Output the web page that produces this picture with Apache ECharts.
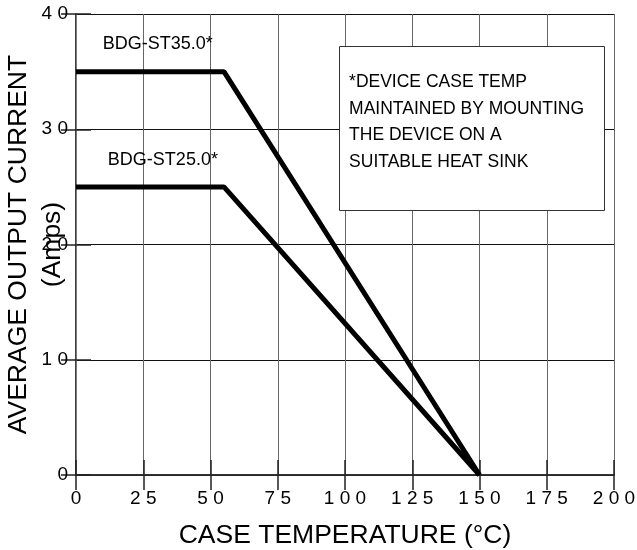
<!DOCTYPE html>
<html>
<head>
<meta charset="utf-8">
<script src="https://cdn.jsdelivr.net/npm/echarts@6/dist/echarts.min.js"></script>
<style>html,body{margin:0;padding:0;background:#fff;}#c{width:637px;height:550px;}</style>
</head>
<body>
<div id="c"></div>
<script>
// ---- data ----
var temps35 = [0, 55, 150];
var amps35 = [35, 35, 0];
var temps25 = [0, 55, 150];
var amps25 = [25, 25, 0];
var seriesNames = ['BDG-ST35.0*', 'BDG-ST25.0*'];
var seriesLabelPos = [[30.4, 37.4], [32.3, 27.3]];
var xTicks = [0, 25, 50, 75, 100, 125, 150, 175, 200];
var yTicks = [0, 10, 20, 30, 40];
var noteLines = ['*DEVICE CASE TEMP', 'MAINTAINED BY MOUNTING', 'THE DEVICE ON A', 'SUITABLE HEAT SINK'];
var noteBox = {x0: 97.8, x1: 196.2, y0: 23.0, y1: 37.2};
var xTitle = 'CASE TEMPERATURE (°C)';
var yTitle = 'AVERAGE OUTPUT CURRENT\n(Amps)';

var FONT = '"Liberation Sans", Arial, sans-serif';
function spaced(v) { return String(v).split('').join(' '); }

var chart = echarts.init(document.getElementById('c'), null, {renderer: 'canvas'});
function pairs(xs, ys) { return xs.map(function (x, i) { return [x, ys[i]]; }); }

var option = {
  animation: false,
  backgroundColor: '#fff',
  grid: {left: 76, top: 14, width: 538, height: 461, containLabel: false, outerBoundsMode: 'none'},
  xAxis: [{
    type: 'value', min: xTicks[0], max: xTicks[xTicks.length - 1], interval: 25,
    name: xTitle, nameLocation: 'middle', nameGap: 47, nameMoveOverlap: false,
    nameTextStyle: {fontFamily: FONT, fontSize: 26.5, color: '#000'},
    axisLine: {show: true, onZero: false, lineStyle: {color: '#000', width: 1.5}},
    axisTick: {show: true, inside: true, length: 15, lineStyle: {color: '#222', width: 1.5}},
    axisLabel: {fontFamily: FONT, fontSize: 19, color: '#000', margin: 14, formatter: spaced},
    splitLine: {show: true, lineStyle: {color: '#666', width: 1}}
  }, {
    type: 'value', position: 'top', min: xTicks[0], max: xTicks[xTicks.length - 1], interval: 25,
    axisLine: {show: true, lineStyle: {color: '#333', width: 1.5}},
    axisTick: {show: true, inside: true, length: 15, lineStyle: {color: '#222', width: 1.5}},
    axisLabel: {show: false}, splitLine: {show: false}
  }],
  yAxis: [{
    type: 'value', min: yTicks[0], max: yTicks[yTicks.length - 1], interval: 10,
    name: yTitle, nameLocation: 'middle', nameGap: 6, nameRotate: 90, nameMoveOverlap: false,
    nameTextStyle: {fontFamily: FONT, fontSize: 26.5, color: '#000', lineHeight: 34, align: 'center'},
    axisLine: {show: true, onZero: false, lineStyle: {color: '#000', width: 1.5}},
    axisTick: {show: true, inside: true, length: 15, lineStyle: {color: '#222', width: 1.5}},
    axisLabel: {fontFamily: FONT, fontSize: 19, color: '#000', margin: 8, formatter: spaced},
    splitLine: {show: true, lineStyle: {color: '#111', width: 1}}
  }, {
    type: 'value', position: 'right', min: yTicks[0], max: yTicks[yTicks.length - 1], interval: 10,
    axisLine: {show: true, lineStyle: {color: '#777', width: 1}},
    axisTick: {show: true, inside: true, length: 15, lineStyle: {color: '#222', width: 1.5}},
    axisLabel: {show: false}, splitLine: {show: false}
  }],
  series: [{
    name: seriesNames[0], type: 'line', data: pairs(temps35, amps35),
    symbol: 'none', lineStyle: {color: '#000', width: 5}, z: 5
  }, {
    name: seriesNames[1], type: 'line', data: pairs(temps25, amps25),
    symbol: 'none', lineStyle: {color: '#000', width: 5}, z: 5
  }]
};
chart.setOption(option);

var g = [];
seriesNames.forEach(function (n, i) {
  var p = chart.convertToPixel({gridIndex: 0}, seriesLabelPos[i]);
  g.push({type: 'text', x: p[0], y: p[1], z: 10,
    style: {text: n, fontFamily: FONT, fontSize: 18, fill: '#000', align: 'center', verticalAlign: 'middle'}});
});
var tl = chart.convertToPixel({gridIndex: 0}, [noteBox.x0, noteBox.y1]);
var br = chart.convertToPixel({gridIndex: 0}, [noteBox.x1, noteBox.y0]);
g.push({type: 'rect', z: 20, shape: {x: Math.round(tl[0]) + 0.5, y: Math.round(tl[1]) + 0.5, width: Math.round(br[0] - tl[0]), height: Math.round(br[1] - tl[1])},
  style: {fill: '#fff', stroke: '#333', lineWidth: 1}});
noteLines.forEach(function (t, i) {
  g.push({type: 'text', z: 21, x: tl[0] + 10, y: tl[1] + 36 + i * 26.5,
    style: {text: t, fontFamily: FONT, fontSize: 17.5, fill: '#000', align: 'left', verticalAlign: 'middle'}});
});
chart.setOption({graphic: g});
</script>
</body>
</html>
